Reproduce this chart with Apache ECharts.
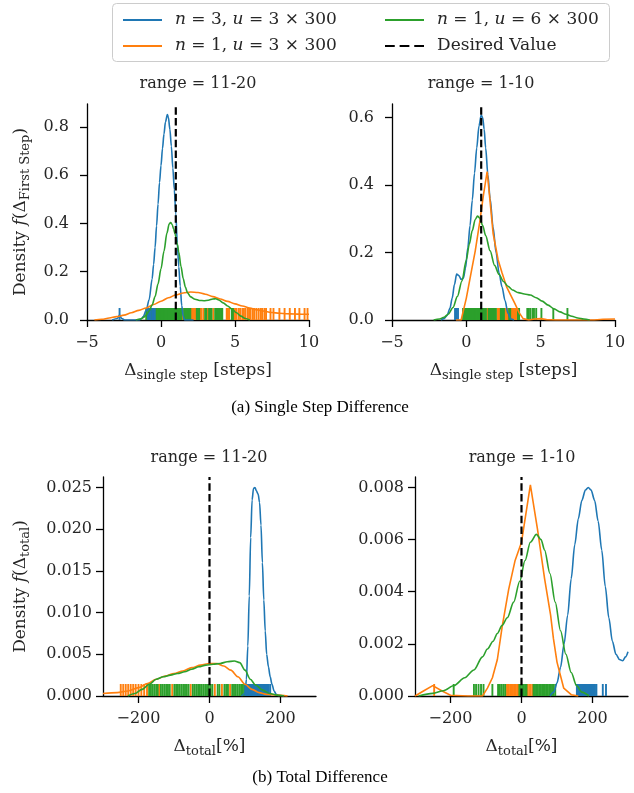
<!DOCTYPE html>
<html><head><meta charset="utf-8">
<script src="https://cdn.jsdelivr.net/npm/echarts@6/dist/echarts.min.js"></script>
<style>html,body{margin:0;padding:0;background:#fff;}#c{width:634px;height:793px;}</style>
</head><body><div id="c"></div>
<script>
// ---------- data ----------
const seriesNames = ['n = 3, u = 3 × 300', 'n = 1, u = 3 × 300', 'n = 1, u = 6 × 300', 'Desired Value'];
const panelTitles = ['range = 11-20', 'range = 1-10', 'range = 11-20', 'range = 1-10'];
const captions = ['(a) Single Step Difference', '(b) Total Difference'];
const topXTicks = [-5, 0, 5, 10];
const botXTicks = [-200, 0, 200];
const tlYTicks = [0, 0.2, 0.4, 0.6, 0.8];
const trYTicks = [0, 0.2, 0.4, 0.6];
const blYTicks = [0, 0.005, 0.01, 0.015, 0.02, 0.025];
const brYTicks = [0, 0.002, 0.004, 0.006, 0.008];
const desiredTop = 1, desiredBottom = 0;

// top-left (range 11-20, single step)
const tlBlue = [[-3.3,0],[-2.95,0.006],[-2.8,0.02],[-2.65,0.006],[-2.45,0],[-1.5,0],[-1.3,0.006],[-1.2,0.014],[-1.0,0.04],[-0.8,0.085],[-0.6,0.17],[-0.5,0.23],[-0.4,0.3],[-0.3,0.39],[-0.2,0.48],[-0.1,0.57],[0,0.64],[0.1,0.71],[0.2,0.77],[0.3,0.82],[0.43,0.851],[0.5,0.84],[0.6,0.79],[0.7,0.72],[0.8,0.63],[0.9,0.54],[1.0,0.44],[1.1,0.32],[1.2,0.22],[1.3,0.14],[1.4,0.06],[1.5,0.015],[1.6,0],[2.2,0]];
const tlOrange = [[-4.5,0],[-4,0.003],[-3.5,0.008],[-3,0.014],[-2.5,0.02],[-2,0.03],[-1.5,0.04],[-1,0.05],[-0.5,0.064],[0,0.078],[0.5,0.092],[1,0.104],[1.5,0.112],[2,0.116],[2.5,0.114],[3,0.107],[3.5,0.097],[4,0.087],[4.5,0.077],[5,0.067],[5.5,0.058],[6,0.049],[6.5,0.042],[7,0.036],[7.5,0.031],[8,0.028],[8.5,0.026],[9,0.025],[9.5,0.024],[10,0.024]];
const tlGreen = [[-1.7,0],[-1.4,0.004],[-1.2,0.01],[-1.0,0.02],[-0.8,0.038],[-0.6,0.062],[-0.4,0.097],[-0.2,0.15],[0,0.212],[0.2,0.285],[0.4,0.36],[0.55,0.398],[0.65,0.404],[0.75,0.396],[0.85,0.378],[0.95,0.356],[1.1,0.315],[1.2,0.282],[1.35,0.222],[1.5,0.172],[1.65,0.135],[1.8,0.112],[2.0,0.096],[2.3,0.086],[2.6,0.081],[2.9,0.08],[3.2,0.082],[3.5,0.087],[3.7,0.088],[3.9,0.083],[4.2,0.071],[4.5,0.058],[4.8,0.045],[5.1,0.03],[5.4,0.016],[5.7,0.006],[6.0,0]];
const tlBlueRug = [-2.8,-0.88,-0.8,-0.72,-0.6,-0.5,-0.42];
const tlOrangeRug = [1.47,2.07,2.15,2.23,2.32,2.64,2.72,2.86,3.1,3.18,3.53,4.44,4.52,4.6,4.9,5.0,5.1,5.25,5.35,5.5,5.6,5.7,5.85,5.95,6.05,6.2,6.3,6.45,6.6,6.75,6.85,7.0,7.1,7.4,7.6,8.0,8.35,8.7,9.05,9.35,9.7,9.9];
const tlGreenRug = [-1.0,-0.93,-0.86,-0.79,-0.72,-0.65,-0.58,-0.51,-0.44,-0.37,-0.3,-0.23,-0.16,-0.09,-0.02,0.05,0.12,0.19,0.26,0.33,0.4,0.47,0.54,0.61,0.68,0.75,0.82,0.89,0.96,1.03,1.1,1.17,1.24,1.31,1.38,1.56,1.63,1.7,1.77,1.84,1.91,1.98,2.42,2.5,2.58,2.98,3.06,3.25,3.33,3.41,3.66,3.74,3.82,3.9,3.98,4.06,4.14,4.78,4.86];

// top-right (range 1-10, single step)
const trBlue = [[-1.7,0],[-1.5,0.004],[-1.3,0.013],[-1.1,0.035],[-0.95,0.065],[-0.8,0.105],[-0.65,0.136],[-0.5,0.132],[-0.35,0.12],[-0.2,0.124],[-0.05,0.155],[0.1,0.215],[0.25,0.28],[0.4,0.355],[0.55,0.435],[0.7,0.51],[0.85,0.575],[1.0,0.607],[1.1,0.6],[1.2,0.565],[1.3,0.51],[1.45,0.43],[1.6,0.36],[1.8,0.275],[2.0,0.2],[2.2,0.14],[2.4,0.098],[2.6,0.058],[2.8,0.02],[3.0,0.003],[3.2,0]];
const trOrange = [[-0.7,0],[-0.35,0],[0,0.065],[0.3,0.135],[0.6,0.205],[0.9,0.29],[1.15,0.37],[1.4,0.44],[1.6,0.35],[1.8,0.257],[2.14,0.178],[2.4,0.14],[2.7,0.099],[3.0,0.072],[3.26,0.049],[3.55,0.022],[3.82,0.004],[4.2,0],[4.6,0.003],[5.0,0.004],[5.4,0.001],[6.0,0],[8.6,0],[9.2,0.002],[10,0.003]];
const trGreen = [[-2.2,0],[-1.8,0.003],[-1.5,0.008],[-1.2,0.018],[-0.9,0.037],[-0.6,0.07],[-0.3,0.115],[0,0.178],[0.2,0.225],[0.4,0.265],[0.6,0.298],[0.75,0.308],[0.9,0.302],[1.1,0.28],[1.3,0.25],[1.6,0.205],[1.9,0.162],[2.2,0.135],[2.5,0.114],[2.8,0.1],[3.1,0.089],[3.5,0.081],[3.9,0.077],[4.3,0.074],[4.7,0.066],[5.1,0.056],[5.5,0.044],[5.9,0.033],[6.3,0.024],[6.7,0.017],[7.1,0.011],[7.5,0.006],[7.9,0.003],[8.3,0]];
const trBlueRug = [-0.76,-0.66,-0.56];
const trOrangeRug = [1.42,2.1,2.17,2.24,2.6,2.67,2.74,2.81,3.05,3.12,3.19,3.26,3.33,3.4];
const trGreenRug = [-0.22,-0.15,-0.08,-0.01,0.06,0.13,0.2,0.27,0.34,0.41,0.48,0.55,0.62,0.69,0.76,0.83,0.9,0.97,1.04,1.11,1.18,1.25,1.32,1.5,1.57,1.64,1.71,1.78,1.85,1.92,1.99,2.32,2.39,2.46,2.53,2.88,2.95,3.47,3.55,4.1,4.2,4.3,4.45,4.55,4.7,5.05,5.85,6.8];

// bottom-left (range 11-20, total)
const blBlue = [[90,0],[100,0.0003],[104,0.002],[108,0.006],[112,0.012],[116,0.019],[120,0.0235],[124,0.0249],[128,0.025],[132,0.0246],[137,0.0242],[141,0.0232],[145,0.0205],[149,0.016],[153,0.0115],[157,0.0078],[161,0.005],[166,0.0035],[171,0.0023],[176,0.0014],[182,0.0006],[188,0.0002],[195,0]];
const blOrange = [[-300,0.0003],[-260,0.0004],[-230,0.0006],[-200,0.001],[-175,0.0015],[-150,0.002],[-125,0.0024],[-100,0.0027],[-75,0.003],[-50,0.0034],[-25,0.0037],[0,0.0039],[20,0.0039],[40,0.0036],[60,0.0031],[80,0.0023],[100,0.0014],[120,0.0008],[140,0.0004],[160,0.0002],[190,0.0001],[220,0]];
const blGreen = [[-230,0],[-210,0.0003],[-190,0.0008],[-170,0.0014],[-150,0.002],[-130,0.0023],[-110,0.0025],[-90,0.0027],[-70,0.0029],[-50,0.0032],[-30,0.0035],[-10,0.0037],[10,0.0038],[30,0.0039],[50,0.0041],[70,0.0042],[85,0.004],[100,0.0031],[115,0.002],[130,0.0013],[150,0.0007],[170,0.0003],[190,0.0001],[210,0]];
const blBlueRug = [101,104,107,110,113,116,119,122,125,128,131,134,137,140,143,146,149,152,155,158,161,164,167,171];
const blOrangeRug = [-250,-243,-236,-229,-222,-215,-208,-200,-192,-184,-176,-142,-105,-53,15,35,58];
const blGreenRug = [-170,-165,-160,-155,-150,-146,-137,-132,-127,-122,-117,-112,-99,-94,-89,-84,-79,-74,-69,-64,-59,-47,-42,-37,-32,-27,-22,-17,-12,-7,-2,3,8,23,28,42,47,52,64,69,74,79,84,89,94,98];

// bottom-right (range 1-10, total)
const brBlue = [[80,0],[91,0.00015],[100,0.0005],[110,0.0011],[120,0.002],[130,0.0031],[140,0.0045],[150,0.0058],[160,0.0068],[170,0.0075],[180,0.0079],[188,0.008],[196,0.0079],[206,0.0075],[216,0.0067],[226,0.0056],[236,0.0042],[246,0.003],[256,0.0021],[266,0.0016],[276,0.0014],[285,0.00135],[293,0.0015],[300,0.0017]];
const brOrange = [[-300,0],[-275,0.0002],[-250,0.0004],[-225,0.0002],[-200,0.00003],[-150,0],[-110,0],[-96,0.0003],[-82,0.0007],[-68,0.0014],[-54,0.0027],[-36,0.0041],[-18,0.0052],[0,0.0059],[25,0.0081],[45,0.0064],[65,0.0045],[82,0.0031],[90,0.0022],[100,0.0013],[119,0.0003],[140,0.00005],[160,0]];
const brGreen = [[-290,0],[-250,0.0001],[-220,0.0002],[-190,0.0004],[-160,0.0007],[-134,0.001],[-110,0.0015],[-96,0.0018],[-80,0.0021],[-68,0.0024],[-55,0.0027],[-40,0.003],[-22,0.0036],[-5,0.0044],[10,0.0052],[25,0.0059],[42,0.0062],[55,0.006],[65,0.0056],[80,0.0047],[95,0.0036],[110,0.0025],[125,0.0016],[140,0.0009],[155,0.0004],[170,0.00015],[190,0]];
const brBlueRug = [156,159,162,165,168,171,174,177,180,183,186,189,192,195,198,201,204,207,211,229,238];
const brOrangeRug = [-246,-44,-40,-36,-32,-28,-24,-20,-16,-12,-8,18,24,30];
const brGreenRug = [-191,-134,-128,-121,-114,-107,-82,-66,-61,-56,-51,-46,-6,-2,2,6,10,14,34,38,42,46,50,54,58,62,66,70,74,78,82,86,90,95];

// ---------- styling / construction ----------
const C = {blue:'#1f77b4', orange:'#ff7f0e', green:'#2ca02c'};
const FONT = 'DejaVu Serif';
const TXT = '#262626';
const panels = [
  {grid:{left:87, top:104, width:222, height:216}, xr:[-5,10], yr:[0,0.895], xt:topXTicks, yt:tlYTicks, yd:1, desired:desiredTop,
   curves:[tlBlue, tlOrange, tlGreen], rugs:[tlBlueRug, tlOrangeRug, tlGreenRug], smooth:[true,true,true], title:panelTitles[0], tx:198, ty:84},
  {grid:{left:392, top:104, width:223, height:216}, xr:[-5,10], yr:[0,0.64], xt:topXTicks, yt:trYTicks, yd:1, desired:desiredTop,
   curves:[trBlue, trOrange, trGreen], rugs:[trBlueRug, trOrangeRug, trGreenRug], smooth:[true,false,true], title:panelTitles[1], tx:481, ty:84},
  {grid:{left:103, top:477, width:213, height:219}, xr:[-300,300], yr:[0,0.02625], xt:botXTicks, yt:blYTicks, yd:3, desired:desiredBottom,
   curves:[blBlue, blOrange, blGreen], rugs:[blBlueRug, blOrangeRug, blGreenRug], smooth:[true,true,true], title:panelTitles[2], tx:209, ty:458},
  {grid:{left:415, top:477, width:213, height:219}, xr:[-300,300], yr:[0,0.0084], xt:botXTicks, yt:brYTicks, yd:3, desired:desiredBottom,
   curves:[brBlue, brOrange, brGreen], rugs:[brBlueRug, brOrangeRug, brGreenRug], smooth:[true,false,true], title:panelTitles[3], tx:522, ty:458}
];
const fmtX = v => (v < 0 ? '\u2212' : '') + Math.abs(v);
const nameRich = {
  n:{fontFamily:FONT, fontSize:17, color:TXT},
  i:{fontFamily:FONT, fontSize:17, color:TXT, fontStyle:'italic'},
  s:{fontFamily:FONT, fontSize:13, color:TXT, padding:[9,0,0,0]}
};
const xNames = ['{n|Δ}{s|single step}{n| [steps]}', '{n|Δ}{s|single step}{n| [steps]}', '{n|Δ}{s|total}{n|[%]}', '{n|Δ}{s|total}{n|[%]}'];
const yNames = ['{n|Density }{i|f}{n|(Δ}{s|First Step}{n|)}', '', '{n|Density }{i|f}{n|(Δ}{s|total}{n|)}', ''];

const grids = [], xAxes = [], yAxes = [], series = [], graphics = [];
const colors = [C.blue, C.orange, C.green];
panels.forEach((p, gi) => {
  grids.push(p.grid);
  xAxes.push({type:'value', gridIndex:gi, min:p.xr[0], max:p.xr[1], position:'bottom',
    axisLine:{show:true, onZero:false, lineStyle:{color:'#000', width:1.3}},
    axisTick:{show:true, length:7, customValues:p.xt, lineStyle:{color:'#000', width:1.3}},
    axisLabel:{customValues:p.xt, formatter:fmtX, margin:15, fontFamily:FONT, fontSize:16, color:TXT},
    splitLine:{show:false},
    name:xNames[gi], nameLocation:'middle', nameGap:40, nameTextStyle:{fontFamily:FONT, fontSize:17, color:TXT, rich:nameRich}
  });
  yAxes.push({type:'value', gridIndex:gi, min:p.yr[0], max:p.yr[1],
    axisLine:{show:true, onZero:false, lineStyle:{color:'#000', width:1.3}},
    axisTick:{show:true, length:7, customValues:p.yt, lineStyle:{color:'#000', width:1.3}},
    axisLabel:{customValues:p.yt, formatter:v => v.toFixed(p.yd), margin: gi < 2 ? 18 : 11, fontFamily:FONT, fontSize:16, color:TXT},
    splitLine:{show:false},
    name:yNames[gi], nameLocation:'middle', nameRotate:90, nameGap: gi === 0 ? 55 : 71,
    nameTextStyle:{fontFamily:FONT, fontSize:17, color:TXT, rich:nameRich}
  });
  // rugs: orange below, green, blue on top
  [1, 2, 0].forEach(k => {
    series.push({type:'scatter', name:'rug'+gi+'_'+k, xAxisIndex:gi, yAxisIndex:gi, silent:true,
      data:p.rugs[k].map(v => [v, 0]), symbol:'rect', symbolSize:[1.9, 12], symbolOffset:[0, '-50%'],
      itemStyle:{color:colors[k], opacity:1}, z:2, animation:false});
  });
  // KDE curves
  [0, 1, 2].forEach(k => {
    series.push({type:'line', name:seriesNames[k], xAxisIndex:gi, yAxisIndex:gi, data:p.curves[k],
      symbol:'none', smooth:p.smooth[k] ? 0.3 : false, smoothMonotone:'x', silent:true,
      lineStyle:{color:colors[k], width:1.6}, itemStyle:{color:colors[k]}, z:3});
  });
  series.push({type:'line', name:seriesNames[3], xAxisIndex:gi, yAxisIndex:gi,
    data:[[p.desired, p.yr[0]], [p.desired, p.yr[1]]], symbol:'none', silent:true,
    lineStyle:{color:'#000', width:2.2, type:[7.5, 3.3]}, itemStyle:{color:'#000'}, z:4});
  graphics.push({type:'text', x:p.tx, y:p.ty, style:{text:p.title, font:'16px "DejaVu Serif"', fill:TXT,
    align:'center', verticalAlign:'middle', textAlign:'center', textVerticalAlign:'middle'}});
});
graphics.push({type:'text', x:320, y:408, style:{text:captions[0], font:'17px "Liberation Serif"', fill:'#000',
  align:'center', verticalAlign:'middle', textAlign:'center', textVerticalAlign:'middle'}});
graphics.push({type:'text', x:320, y:778, style:{text:captions[1], font:'17px "Liberation Serif"', fill:'#000',
  align:'center', verticalAlign:'middle', textAlign:'center', textVerticalAlign:'middle'}});
graphics.push({type:'rect', z:-10, shape:{x:112.5, y:3.5, width:497, height:58, r:4},
  style:{fill:'rgba(255,255,255,0.85)', stroke:'#cccccc', lineWidth:1}});

const solidIcon = 'path://M0,0h40v2h-40z';
const dashIcon = 'path://M0,0h10v2h-10z M15,0h10v2h-10z M30,0h10v2h-10z';
const legendFmt = name => name.startsWith('n') ? name.replace(/n/, '{i|n}').replace(/u/, '{i|u}') : name;
const legendBase = {orient:'vertical', itemWidth:39, itemHeight:2, itemGap:6, selectedMode:false, formatter:legendFmt,
  textStyle:{fontFamily:FONT, fontSize:17, color:TXT, lineHeight:20, padding:[0,0,0,8],
    rich:{i:{fontFamily:FONT, fontSize:17, color:TXT, fontStyle:'italic'}}}};

const chart = echarts.init(document.getElementById('c'), null, {renderer:'canvas'});
chart.setOption({
  animation:false,
  backgroundColor:'#fff',
  grid:grids, xAxis:xAxes, yAxis:yAxes, series:series, graphic:graphics,
  legend:[
    Object.assign({}, legendBase, {left:118, top:5, data:[
      {name:seriesNames[0], icon:solidIcon, itemStyle:{color:C.blue}},
      {name:seriesNames[1], icon:solidIcon, itemStyle:{color:C.orange}}]}),
    Object.assign({}, legendBase, {left:380, top:5, data:[
      {name:seriesNames[2], icon:solidIcon, itemStyle:{color:C.green}},
      {name:seriesNames[3], icon:dashIcon, itemStyle:{color:'#000'}}]})
  ]
});
</script></body></html>
